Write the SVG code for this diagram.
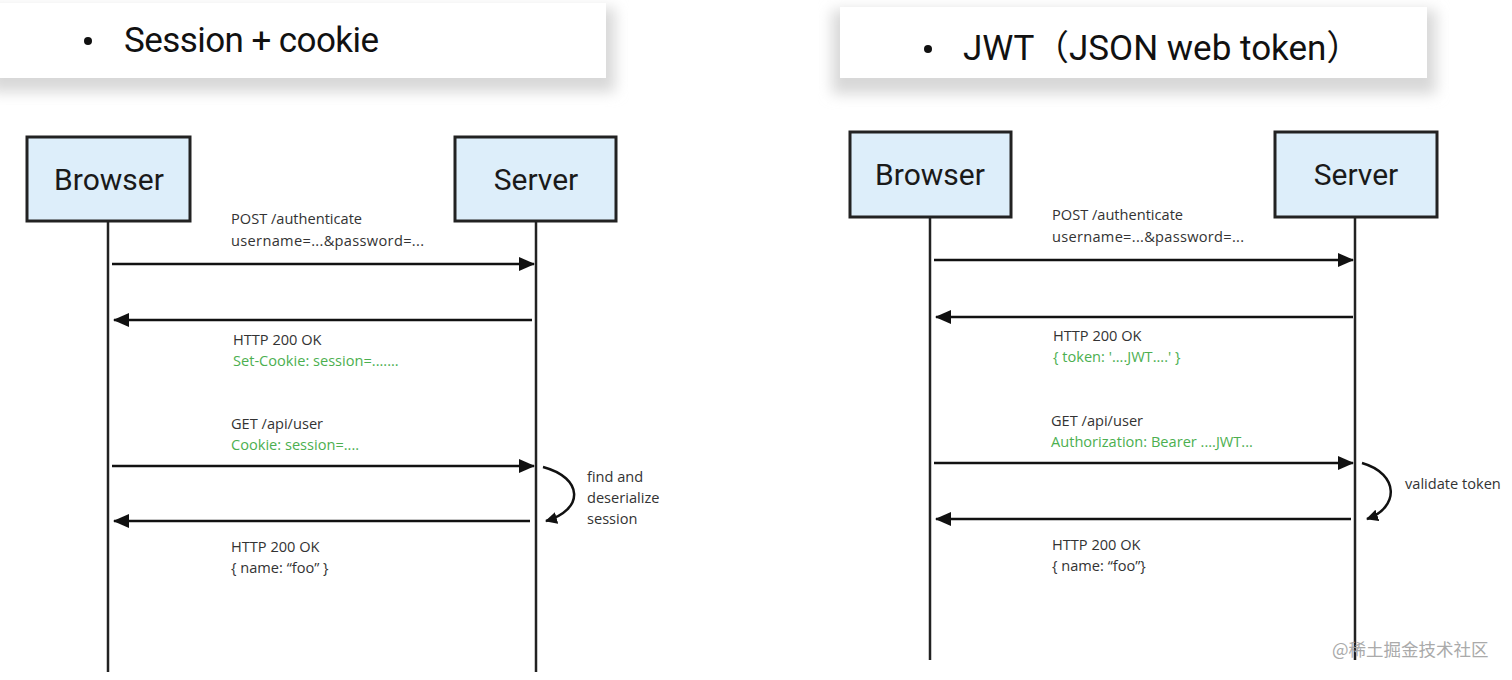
<svg xmlns="http://www.w3.org/2000/svg" width="1512" height="680" viewBox="0 0 1512 680">
<defs>
<style>
.title{font-family:Roboto,"Liberation Sans","Noto Sans CJK SC",sans-serif;font-size:35px;fill:#111}
.box{fill:#ddeefa;stroke:#222;stroke-width:3}
.boxlabel{font-family:Roboto,"Liberation Sans",sans-serif;font-size:30px;fill:#1a1a1a;text-anchor:middle}
.lbl{font-family:"Open Sans","Liberation Sans",sans-serif;font-size:14.6px;fill:#333}
.grn{fill:#4caf50}
.life{stroke:#222;stroke-width:2.5;fill:none}
.msg{stroke:#111;stroke-width:2.5;fill:none;marker-end:url(#ah)}
.loop{stroke:#111;stroke-width:2.5;fill:none;marker-end:url(#ah2)}
.wm{font-family:"Noto Sans CJK SC","Liberation Sans",sans-serif;font-size:17.5px;fill:#aaa}
</style>
<marker id="ah" markerUnits="userSpaceOnUse" markerWidth="16" markerHeight="14" refX="15" refY="7" orient="auto">
<path d="M0,0 L16,7 L0,14 Z" fill="#111"/>
</marker>
<marker id="ah2" markerUnits="userSpaceOnUse" markerWidth="12" markerHeight="12" refX="11" refY="6" orient="auto">
<path d="M0,0 L12,6 L0,12 Z" fill="#111"/>
</marker>
<filter id="sh" x="-5%" y="-50%" width="110%" height="200%">
<feGaussianBlur stdDeviation="7"/>
</filter>
</defs>
<rect width="1512" height="680" fill="#fff"/>

<!-- title bands -->
<g id="title-left">
<rect x="-10" y="8" width="625" height="84" fill="#d8d8d8" filter="url(#sh)"/>
<rect x="0" y="3" width="606" height="75" fill="#fff"/>
<circle cx="88" cy="41" r="4" fill="#111"/>
<text class="title" x="124" y="52" textLength="255">Session + cookie</text>
</g>
<g id="title-right">
<rect x="832" y="10" width="604" height="84" fill="#d8d8d8" filter="url(#sh)"/>
<rect x="840" y="7" width="587" height="71" fill="#fff"/>
<circle cx="928" cy="49" r="4" fill="#111"/>
<text class="title" x="963" y="60">JWT<tspan x="1034">（JSON web token）</tspan></text>
</g>

<!-- left diagram nodes -->
<g id="browser-left">
<rect class="box" x="27" y="137" width="163" height="84"/>
<text class="boxlabel" x="109" y="190">Browser</text>
</g>
<g id="server-left">
<rect class="box" x="455" y="137" width="161" height="84"/>
<text class="boxlabel" x="536" y="190">Server</text>
</g>
<!-- right diagram nodes -->
<g id="browser-right">
<rect class="box" x="850" y="132" width="161" height="85"/>
<text class="boxlabel" x="930" y="185">Browser</text>
</g>
<g id="server-right">
<rect class="box" x="1275" y="132" width="162" height="85"/>
<text class="boxlabel" x="1356" y="185">Server</text>
</g>

<g id="connectors">
<line class="life" x1="108" y1="222" x2="108" y2="672"/>
<line class="life" x1="536" y1="222" x2="536" y2="672"/>
<line class="life" x1="930" y1="218" x2="930" y2="660"/>
<line class="life" x1="1355" y1="218" x2="1355" y2="660"/>

<line class="msg" x1="112" y1="264" x2="534" y2="264"/>
<line class="msg" x1="532" y1="320" x2="114" y2="320"/>
<line class="msg" x1="112" y1="466" x2="534" y2="466"/>
<line class="msg" x1="530" y1="521" x2="114" y2="521"/>
<path class="loop" d="M543,467 C584,478 584,510 546,521"/>

<line class="msg" x1="934" y1="260" x2="1353" y2="260"/>
<line class="msg" x1="1353" y1="317" x2="936" y2="317"/>
<line class="msg" x1="934" y1="463" x2="1353" y2="463"/>
<line class="msg" x1="1351" y1="519" x2="936" y2="519"/>
<path class="loop" d="M1362,463 C1400,474 1399,508 1367,519"/>
</g>

<g id="labels">
<text class="lbl" x="231" y="224">POST /authenticate</text>
<text class="lbl" x="231" y="246" textLength="193">username=...&amp;password=...</text>
<text class="lbl" x="233" y="345">HTTP 200 OK</text>
<text class="lbl grn" x="233" y="366">Set-Cookie: session=.......</text>
<text class="lbl" x="231" y="429">GET /api/user</text>
<text class="lbl grn" x="231" y="450">Cookie: session=....</text>
<text class="lbl" x="231" y="552">HTTP 200 OK</text>
<text class="lbl" x="231" y="573">{ name: “foo” }</text>
<text class="lbl" x="587" y="482">find and</text>
<text class="lbl" x="587" y="503">deserialize</text>
<text class="lbl" x="587" y="524">session</text>

<text class="lbl" x="1052" y="220">POST /authenticate</text>
<text class="lbl" x="1052" y="242" textLength="192">username=...&amp;password=...</text>
<text class="lbl" x="1053" y="341">HTTP 200 OK</text>
<text class="lbl grn" x="1053" y="362">{ token: '....JWT....' }</text>
<text class="lbl" x="1051" y="426">GET /api/user</text>
<text class="lbl grn" x="1051" y="447">Authorization: Bearer ....JWT...</text>
<text class="lbl" x="1052" y="550">HTTP 200 OK</text>
<text class="lbl" x="1052" y="571">{ name: “foo”}</text>
<text class="lbl" x="1405" y="489">validate token</text>
</g>

<text class="wm" x="1332" y="656">@稀土掘金技术社区</text>
</svg>
